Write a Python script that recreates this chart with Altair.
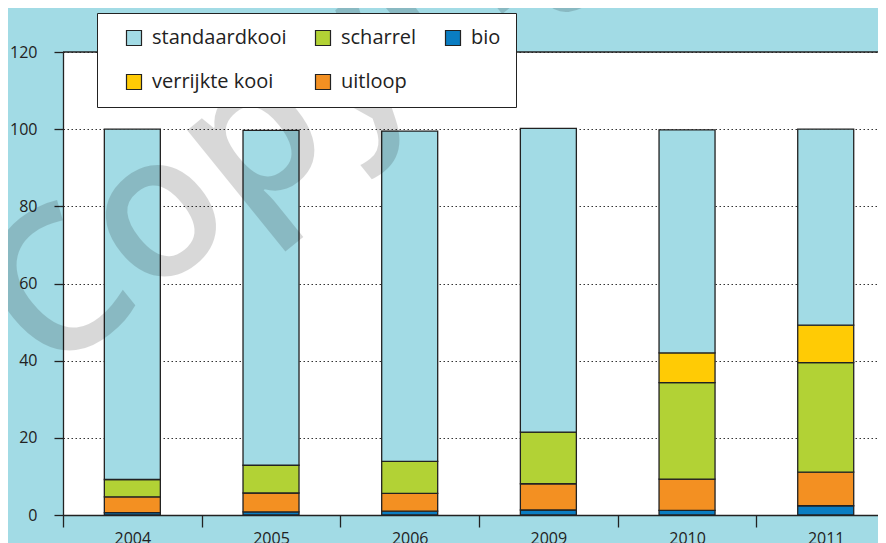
import altair as alt
import pandas as pd

years = ["2004", "2005", "2006", "2009", "2010", "2011"]
categories = ["standaardkooi", "scharrel", "bio", "verrijkte kooi", "uitloop"]
stack_order = {"bio": 0, "uitloop": 1, "scharrel": 2, "verrijkte kooi": 3, "standaardkooi": 4}
colors = ["#a2dbe5", "#b2d235", "#0a7dc2", "#ffcb05", "#f39022"]

bio = [0.6, 0.8, 1.0, 1.3, 1.2, 2.4]
uitloop = [4.1, 4.9, 4.6, 6.8, 8.1, 8.7]
scharrel = [4.5, 7.2, 8.3, 13.4, 25.0, 28.4]
verrijkte_kooi = [0, 0, 0, 0, 7.7, 9.7]
standaardkooi = [90.8, 86.8, 85.6, 78.7, 57.8, 50.8]

y_ticks = [0, 20, 40, 60, 80, 100, 120]
watermark = ["Copyright"]

series = {
    "bio": bio,
    "uitloop": uitloop,
    "scharrel": scharrel,
    "verrijkte kooi": verrijkte_kooi,
    "standaardkooi": standaardkooi,
}
rows = []
for cat, vals in series.items():
    for i, (yr, v) in enumerate(zip(years, vals)):
        if v > 0:
            rows.append({"idx": i, "jaar": yr, "soort": cat, "waarde": v, "volgorde": stack_order[cat]})
df = pd.DataFrame(rows)

FONT = "Open Sans"

# category positions on a continuous axis: labels at centres, ticks at boundaries
centres = list(range(len(years)))
boundaries = [i - 0.5 for i in range(len(years))]
year_lookup = "[" + ",".join("'" + y + "'" for y in years) + "]"
label_expr = "datum.value % 1 == 0 ? " + year_lookup + "[datum.value] : ''"

x_enc = alt.X(
    "idx:Q",
    scale=alt.Scale(domain=[-0.5, 5.377], nice=False, zero=False, padding=0),
    axis=alt.Axis(
        title=None,
        values=boundaries + centres,
        labelExpr=label_expr,
        labelAngle=0,
        labelFlush=False,
        labelBound=False,
        labelOverlap=False,
        tickSize=12,
        tickColor={"condition": {"test": "datum.value % 1 == 0", "value": "transparent"}, "value": "#222"},
        tickWidth=1.3,
        domainColor="#222",
        domainWidth=1.3,
        labelFontSize=16,
        labelFont=FONT,
        labelColor="#222",
        labelPadding=3,
        grid=False,
    ),
)

bars = alt.Chart(df).mark_bar(size=56, stroke="#222", strokeWidth=1.3).encode(
    x=x_enc,
    y=alt.Y(
        "sum(waarde):Q",
        stack="zero",
        scale=alt.Scale(domain=[0, 120], nice=False),
        axis=alt.Axis(
            title=None,
            values=y_ticks,
            tickSize=9,
            tickColor="#222",
            tickWidth=1.3,
            domainColor="#222",
            domainWidth=1.3,
            labelFontSize=16,
            labelFont=FONT,
            labelColor="#222",
            labelPadding=17,
            grid=True,
            gridColor="#333",
            gridDash=[1.5, 2.5],
            gridWidth=1,
        ),
    ),
    color=alt.Color(
        "soort:N",
        scale=alt.Scale(domain=categories, range=colors),
        legend=alt.Legend(
            title=None,
            orient="none",
            direction="horizontal",
            legendX=34,
            legendY=-39,
            columns=3,
            symbolType="square",
            symbolSize=225,
            symbolStrokeColor="#222",
            symbolStrokeWidth=1.2,
            symbolOffset=12,
            labelOffset=8,
            labelFontSize=20,
            labelFont=FONT,
            labelColor="#222",
            columnPadding=14,
            rowPadding=24,
            padding=15,
            fillColor="white",
            strokeColor="#222",
        ),
    ),
    order=alt.Order("volgorde:Q"),
)

top_line = alt.Chart(pd.DataFrame({"v": [120]})).mark_rule(color="#222", strokeWidth=1.3).encode(
    y=alt.Y("v:Q")
)

wm = alt.Chart(pd.DataFrame({"t": watermark})).mark_text(
    angle=321,
    fontSize=200,
    font=FONT,
    fontWeight=600,
    color="black",
    opacity=0.15,
    align="left",
    baseline="alphabetic",
).encode(x=alt.value(-14), y=alt.value(329), text="t:N")

chart = alt.layer(bars, top_line, wm).properties(
    width=815,
    height=463,
    autosize=alt.AutoSizeParams(type="none"),
    padding={"left": 55, "top": 44, "right": 0, "bottom": 28},
    background="#a2dbe5",
).configure_view(fill="white", stroke=None)

chart.save("out.html", embed_options={"renderer": "svg", "actions": False})
